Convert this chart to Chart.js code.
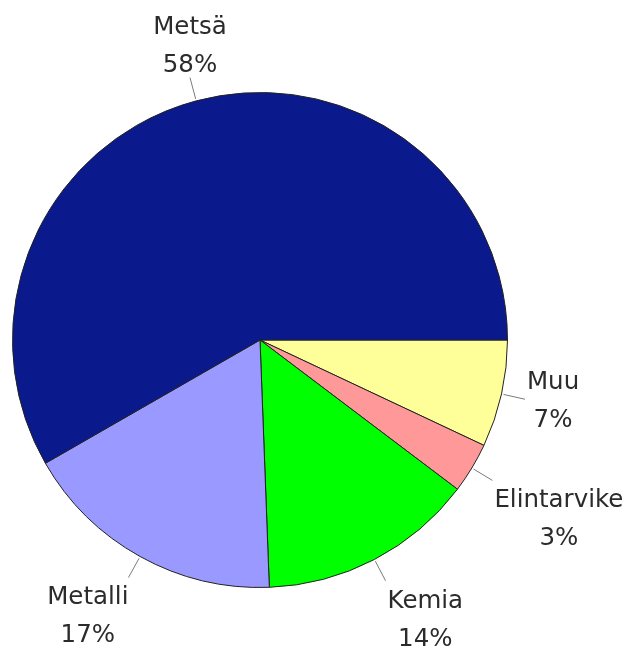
<!DOCTYPE html>
<html>
<head>
<meta charset="utf-8">
<script src="https://cdn.jsdelivr.net/npm/chart.js@4"></script>
<style>
html,body{margin:0;padding:0;background:#fff;}
#wrap{width:631px;height:650px;position:relative;}
</style>
</head>
<body>
<div id="wrap"><canvas id="c" width="631" height="650"></canvas></div>
<script>
const categories = ["Muu", "Elintarvike", "Kemia", "Metalli", "Metsä"];
const shares = [7.0, 3.3, 14.1, 17.3, 58.3];
const sliceColors = ["#FFFF99", "#FF9999", "#00FF00", "#9999FF", "#0A198C"];

const outsideLabels = {
  id: "outsideLabels",
  afterDatasetsDraw(chart) {
    const ctx = chart.ctx;
    const meta = chart.getDatasetMeta(0);
    const total = shares.reduce((a, b) => a + b, 0);
    const fontSize = 24.5;
    const lineH = 38;
    ctx.save();
    ctx.font = fontSize + "px 'DejaVu Sans', Verdana, sans-serif";
    meta.data.forEach((arc, i) => {
      const p = arc.getProps(["x", "y", "startAngle", "endAngle", "outerRadius"], true);
      const mid = (p.startAngle + p.endAngle) / 2;
      const ux = Math.cos(mid), uy = Math.sin(mid);
      const r0 = p.outerRadius + 2, r1 = p.outerRadius + 24;
      const sx = p.x + ux * r0, sy = p.y + uy * r0;
      const ex = p.x + ux * r1, ey = p.y + uy * r1;
      ctx.strokeStyle = "#7a7a7a";
      ctx.lineWidth = 1;
      ctx.beginPath();
      ctx.moveTo(sx, sy);
      ctx.lineTo(ex, ey);
      ctx.stroke();
      const lines = [categories[i], Math.round(shares[i] / total * 100) + "%"];
      const w = Math.max(...lines.map(t => ctx.measureText(t).width));
      const capH = fontSize * 0.73;
      const blockH = lineH + capH;
      let cx;
      if (ux > 0.3) cx = ex + 2 + w / 2;
      else if (ux < -0.3) cx = ex - w / 2;
      else cx = ex;
      let top;
      if (uy > 0.4) top = ey + 9;
      else if (uy < -0.4) top = ey - 6 - blockH;
      else top = ey - blockH / 2;
      ctx.fillStyle = "#2b2b2b";
      ctx.textAlign = "center";
      ctx.textBaseline = "alphabetic";
      lines.forEach((t, k) => {
        ctx.fillText(t, cx, top + capH + k * lineH);
      });
    });
    ctx.restore();
  }
};

new Chart(document.getElementById("c"), {
  type: "pie",
  data: {
    labels: categories,
    datasets: [{
      data: shares,
      backgroundColor: sliceColors,
      borderColor: "#222222",
      borderWidth: 1
    }]
  },
  options: {
    responsive: false,
    animation: false,
    rotation: 90,
    layout: { padding: { left: 12, right: 123, top: 92, bottom: 62 } },
    plugins: {
      legend: { display: false },
      tooltip: { enabled: false }
    }
  },
  plugins: [outsideLabels]
});
</script>
</body>
</html>
